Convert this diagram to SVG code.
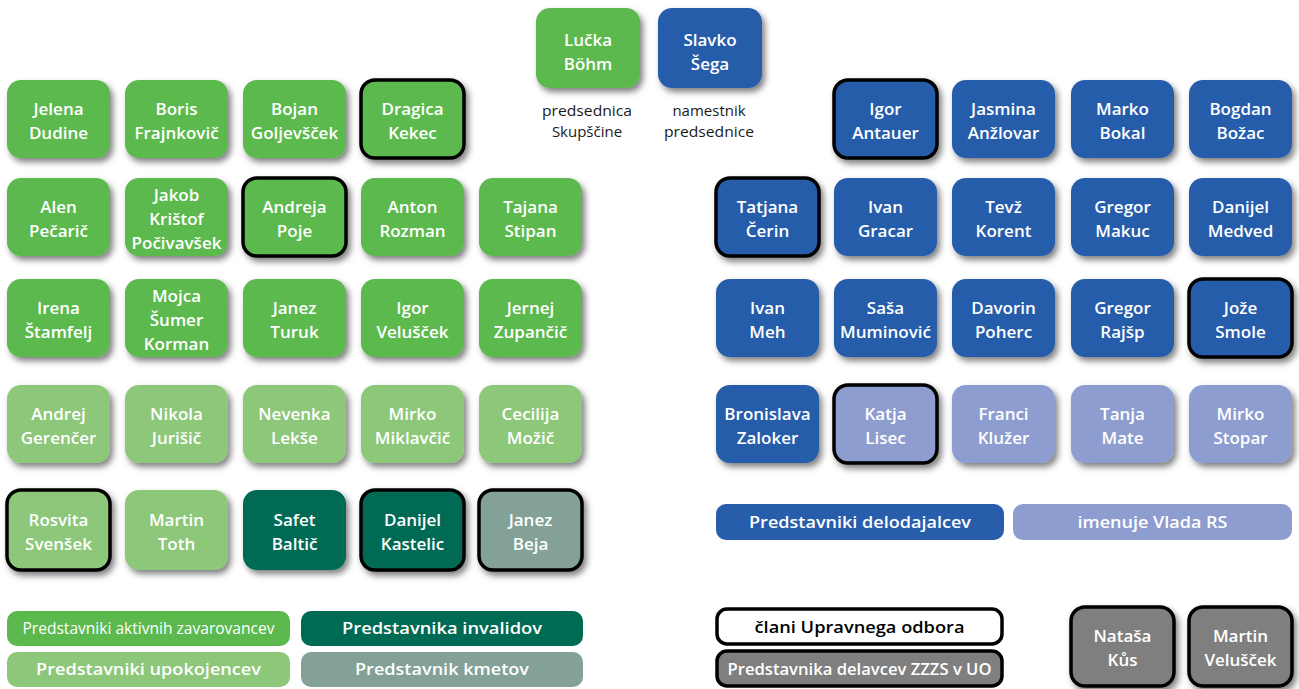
<svg xmlns="http://www.w3.org/2000/svg" width="1299" height="689" viewBox="0 0 1299 689">
<defs>
<filter id="sh" x="-20%" y="-20%" width="150%" height="160%"><feDropShadow dx="3" dy="4" stdDeviation="3" flood-color="#000" flood-opacity="0.5"/></filter>
</defs>
<style>
.box{filter:url(#sh)}
.g{fill:#5bb94e}.lg{fill:#8dc77a}.dg{fill:#006b55}.gg{fill:#83a196}.b{fill:#275dab}.lb{fill:#8e9dcf}.gr{fill:#7f7f7f}.w{fill:#fff}
.bd{stroke:#000;stroke-width:3.5}
.n{font-family:"Open Sans",Lato,sans-serif;font-weight:600;font-size:17px;fill:#fff;text-anchor:middle}
.l{font-family:"Open Sans",Lato,sans-serif;font-weight:600;font-size:16px;fill:#fff;text-anchor:middle}
.lr{font-family:"Open Sans",Lato,sans-serif;font-weight:400;font-size:16px;fill:#fff;text-anchor:middle}
.cap{font-family:"Open Sans",Lato,sans-serif;font-weight:400;font-size:15px;fill:#1a1a1a;text-anchor:middle}
</style>
<rect width="1299" height="689" fill="#fff"/>

<g id="top">
<g id="n-bohm"><rect class="box g" x="536" y="8" width="104" height="80" rx="14"/><text class="n" x="588" y="46">Lučka</text><text class="n" x="588" y="70">Böhm</text></g>
<g id="n-sega"><rect class="box b" x="658" y="8" width="104" height="80" rx="14"/><text class="n" x="710" y="46">Slavko</text><text class="n" x="710" y="70">Šega</text></g>
<text class="cap" x="587" y="116" textLength="90" lengthAdjust="spacingAndGlyphs">predsednica</text><text class="cap" x="587" y="137">Skupščine</text>
<text class="cap" x="709" y="116">namestnik</text><text class="cap" x="709" y="137" textLength="90" lengthAdjust="spacingAndGlyphs">predsednice</text>
</g>

<g id="left">
<g id="n-dudine"><rect class="box g" x="7" y="80" width="103" height="78" rx="14"/><text class="n" x="58.5" y="115">Jelena</text><text class="n" x="58.5" y="139">Dudine</text></g>
<g id="n-frajnkovic"><rect class="box g" x="125" y="80" width="103" height="78" rx="14"/><text class="n" x="176.5" y="115">Boris</text><text class="n" x="176.5" y="139">Frajnkovič</text></g>
<g id="n-goljevscek"><rect class="box g" x="243" y="80" width="103" height="78" rx="14"/><text class="n" x="294.5" y="115">Bojan</text><text class="n" x="294.5" y="139">Goljevšček</text></g>
<g id="n-kekec"><rect class="box g bd" x="361" y="80" width="103" height="78" rx="14"/><text class="n" x="412.5" y="115">Dragica</text><text class="n" x="412.5" y="139">Kekec</text></g>

<g id="n-pecaric"><rect class="box g" x="7" y="178" width="103" height="78" rx="14"/><text class="n" x="58.5" y="213">Alen</text><text class="n" x="58.5" y="237">Pečarič</text></g>
<g id="n-pocivavsek"><rect class="box g" x="125" y="178" width="103" height="78" rx="14"/><text class="n" x="176.5" y="201">Jakob</text><text class="n" x="176.5" y="225">Krištof</text><text class="n" x="176.5" y="249">Počivavšek</text></g>
<g id="n-poje"><rect class="box g bd" x="243" y="178" width="103" height="78" rx="14"/><text class="n" x="294.5" y="213">Andreja</text><text class="n" x="294.5" y="237">Poje</text></g>
<g id="n-rozman"><rect class="box g" x="361" y="178" width="103" height="78" rx="14"/><text class="n" x="412.5" y="213">Anton</text><text class="n" x="412.5" y="237">Rozman</text></g>
<g id="n-stipan"><rect class="box g" x="479" y="178" width="103" height="78" rx="14"/><text class="n" x="530.5" y="213">Tajana</text><text class="n" x="530.5" y="237">Stipan</text></g>

<g id="n-stamfelj"><rect class="box g" x="7" y="279" width="103" height="78" rx="14"/><text class="n" x="58.5" y="314">Irena</text><text class="n" x="58.5" y="338">Štamfelj</text></g>
<g id="n-korman"><rect class="box g" x="125" y="279" width="103" height="78" rx="14"/><text class="n" x="176.5" y="302">Mojca</text><text class="n" x="176.5" y="326">Šumer</text><text class="n" x="176.5" y="350">Korman</text></g>
<g id="n-turuk"><rect class="box g" x="243" y="279" width="103" height="78" rx="14"/><text class="n" x="294.5" y="314">Janez</text><text class="n" x="294.5" y="338">Turuk</text></g>
<g id="n-veluscek-i"><rect class="box g" x="361" y="279" width="103" height="78" rx="14"/><text class="n" x="412.5" y="314">Igor</text><text class="n" x="412.5" y="338">Velušček</text></g>
<g id="n-zupancic"><rect class="box g" x="479" y="279" width="103" height="78" rx="14"/><text class="n" x="530.5" y="314">Jernej</text><text class="n" x="530.5" y="338">Zupančič</text></g>

<g id="n-gerencer"><rect class="box lg" x="7" y="385" width="103" height="78" rx="14"/><text class="n" x="58.5" y="420">Andrej</text><text class="n" x="58.5" y="444">Gerenčer</text></g>
<g id="n-jurisic"><rect class="box lg" x="125" y="385" width="103" height="78" rx="14"/><text class="n" x="176.5" y="420">Nikola</text><text class="n" x="176.5" y="444">Jurišič</text></g>
<g id="n-lekse"><rect class="box lg" x="243" y="385" width="103" height="78" rx="14"/><text class="n" x="294.5" y="420">Nevenka</text><text class="n" x="294.5" y="444">Lekše</text></g>
<g id="n-miklavcic"><rect class="box lg" x="361" y="385" width="103" height="78" rx="14"/><text class="n" x="412.5" y="420">Mirko</text><text class="n" x="412.5" y="444">Miklavčič</text></g>
<g id="n-mozic"><rect class="box lg" x="479" y="385" width="103" height="78" rx="14"/><text class="n" x="530.5" y="420">Cecilija</text><text class="n" x="530.5" y="444">Možič</text></g>

<g id="n-svensek"><rect class="box lg bd" x="7" y="490" width="103" height="80" rx="14"/><text class="n" x="58.5" y="526">Rosvita</text><text class="n" x="58.5" y="550">Svenšek</text></g>
<g id="n-toth"><rect class="box lg" x="125" y="490" width="103" height="80" rx="14"/><text class="n" x="176.5" y="526">Martin</text><text class="n" x="176.5" y="550">Toth</text></g>
<g id="n-baltic"><rect class="box dg" x="243" y="490" width="103" height="80" rx="14"/><text class="n" x="294.5" y="526">Safet</text><text class="n" x="294.5" y="550">Baltič</text></g>
<g id="n-kastelic"><rect class="box dg bd" x="361" y="490" width="103" height="80" rx="14"/><text class="n" x="412.5" y="526">Danijel</text><text class="n" x="412.5" y="550">Kastelic</text></g>
<g id="n-beja"><rect class="box gg bd" x="479" y="490" width="103" height="80" rx="14"/><text class="n" x="530.5" y="526">Janez</text><text class="n" x="530.5" y="550">Beja</text></g>
</g>

<g id="right">
<g id="n-antauer"><rect class="box b bd" x="834" y="80" width="103" height="78" rx="14"/><text class="n" x="885.5" y="115">Igor</text><text class="n" x="885.5" y="139">Antauer</text></g>
<g id="n-anzlovar"><rect class="box b" x="952" y="80" width="103" height="78" rx="14"/><text class="n" x="1003.5" y="115">Jasmina</text><text class="n" x="1003.5" y="139">Anžlovar</text></g>
<g id="n-bokal"><rect class="box b" x="1071" y="80" width="103" height="78" rx="14"/><text class="n" x="1122.5" y="115">Marko</text><text class="n" x="1122.5" y="139">Bokal</text></g>
<g id="n-bozac"><rect class="box b" x="1189" y="80" width="103" height="78" rx="14"/><text class="n" x="1240.5" y="115">Bogdan</text><text class="n" x="1240.5" y="139">Božac</text></g>

<g id="n-cerin"><rect class="box b bd" x="716" y="178" width="103" height="78" rx="14"/><text class="n" x="767.5" y="213">Tatjana</text><text class="n" x="767.5" y="237">Čerin</text></g>
<g id="n-gracar"><rect class="box b" x="834" y="178" width="103" height="78" rx="14"/><text class="n" x="885.5" y="213">Ivan</text><text class="n" x="885.5" y="237">Gracar</text></g>
<g id="n-korent"><rect class="box b" x="952" y="178" width="103" height="78" rx="14"/><text class="n" x="1003.5" y="213">Tevž</text><text class="n" x="1003.5" y="237">Korent</text></g>
<g id="n-makuc"><rect class="box b" x="1071" y="178" width="103" height="78" rx="14"/><text class="n" x="1122.5" y="213">Gregor</text><text class="n" x="1122.5" y="237">Makuc</text></g>
<g id="n-medved"><rect class="box b" x="1189" y="178" width="103" height="78" rx="14"/><text class="n" x="1240.5" y="213">Danijel</text><text class="n" x="1240.5" y="237">Medved</text></g>

<g id="n-meh"><rect class="box b" x="716" y="279" width="103" height="78" rx="14"/><text class="n" x="767.5" y="314">Ivan</text><text class="n" x="767.5" y="338">Meh</text></g>
<g id="n-muminovic"><rect class="box b" x="834" y="279" width="103" height="78" rx="14"/><text class="n" x="885.5" y="314">Saša</text><text class="n" x="885.5" y="338">Muminović</text></g>
<g id="n-poherc"><rect class="box b" x="952" y="279" width="103" height="78" rx="14"/><text class="n" x="1003.5" y="314">Davorin</text><text class="n" x="1003.5" y="338">Poherc</text></g>
<g id="n-rajsp"><rect class="box b" x="1071" y="279" width="103" height="78" rx="14"/><text class="n" x="1122.5" y="314">Gregor</text><text class="n" x="1122.5" y="338">Rajšp</text></g>
<g id="n-smole"><rect class="box b bd" x="1189" y="279" width="103" height="78" rx="14"/><text class="n" x="1240.5" y="314">Jože</text><text class="n" x="1240.5" y="338">Smole</text></g>

<g id="n-zaloker"><rect class="box b" x="716" y="385" width="103" height="78" rx="14"/><text class="n" x="767.5" y="420">Bronislava</text><text class="n" x="767.5" y="444">Zaloker</text></g>
<g id="n-lisec"><rect class="box lb bd" x="834" y="385" width="103" height="78" rx="14"/><text class="n" x="885.5" y="420">Katja</text><text class="n" x="885.5" y="444">Lisec</text></g>
<g id="n-kluzer"><rect class="box lb" x="952" y="385" width="103" height="78" rx="14"/><text class="n" x="1003.5" y="420">Franci</text><text class="n" x="1003.5" y="444">Klužer</text></g>
<g id="n-mate"><rect class="box lb" x="1071" y="385" width="103" height="78" rx="14"/><text class="n" x="1122.5" y="420">Tanja</text><text class="n" x="1122.5" y="444">Mate</text></g>
<g id="n-stopar"><rect class="box lb" x="1189" y="385" width="103" height="78" rx="14"/><text class="n" x="1240.5" y="420">Mirko</text><text class="n" x="1240.5" y="444">Stopar</text></g>
</g>

<g id="legend">
<g id="lg-aktivni"><rect class="g" x="7" y="611" width="283" height="35" rx="10"/><text class="lr" x="148.5" y="634" textLength="252" lengthAdjust="spacingAndGlyphs">Predstavniki aktivnih zavarovancev</text></g>
<g id="lg-invalidi"><rect class="dg" x="301" y="611" width="282" height="35" rx="10"/><text class="l" x="442" y="634" textLength="200" lengthAdjust="spacingAndGlyphs">Predstavnika invalidov</text></g>
<g id="lg-upokojenci"><rect class="lg" x="7" y="652" width="283" height="35" rx="10"/><text class="l" x="148.5" y="675" textLength="225" lengthAdjust="spacingAndGlyphs">Predstavniki upokojencev</text></g>
<g id="lg-kmetje"><rect class="gg" x="301" y="652" width="282" height="35" rx="10"/><text class="l" x="442" y="675" textLength="174" lengthAdjust="spacingAndGlyphs">Predstavnik kmetov</text></g>
<g id="lg-delodajalci"><rect class="b" x="716" y="504" width="288" height="36" rx="10"/><text class="l" x="860" y="528" textLength="222" lengthAdjust="spacingAndGlyphs">Predstavniki delodajalcev</text></g>
<g id="lg-vlada"><rect class="lb" x="1013" y="504" width="279" height="36" rx="10"/><text class="l" x="1152.5" y="528" textLength="150" lengthAdjust="spacingAndGlyphs">imenuje Vlada RS</text></g>
<g id="lg-uo"><rect class="w bd" x="717" y="609" width="285" height="35" rx="10"/><text class="l" x="859.5" y="633" style="fill:#000" textLength="210" lengthAdjust="spacingAndGlyphs">člani Upravnega odbora</text></g>
<g id="lg-zzzs"><rect class="gr bd" x="717" y="651" width="285" height="35" rx="10"/><text class="l" x="859.5" y="675" textLength="264" lengthAdjust="spacingAndGlyphs">Predstavnika delavcev ZZZS v UO</text></g>
</g>

<g id="zzzs">
<g id="n-kus"><rect class="box gr bd" x="1071" y="607" width="103" height="79" rx="14"/><text class="n" x="1122.5" y="642">Nataša</text><text class="n" x="1122.5" y="666">Kůs</text></g>
<g id="n-veluscek-m"><rect class="box gr bd" x="1189" y="607" width="103" height="79" rx="14"/><text class="n" x="1240.5" y="642">Martin</text><text class="n" x="1240.5" y="666">Velušček</text></g>
</g>

<g id="connectors"></g>
</svg>
